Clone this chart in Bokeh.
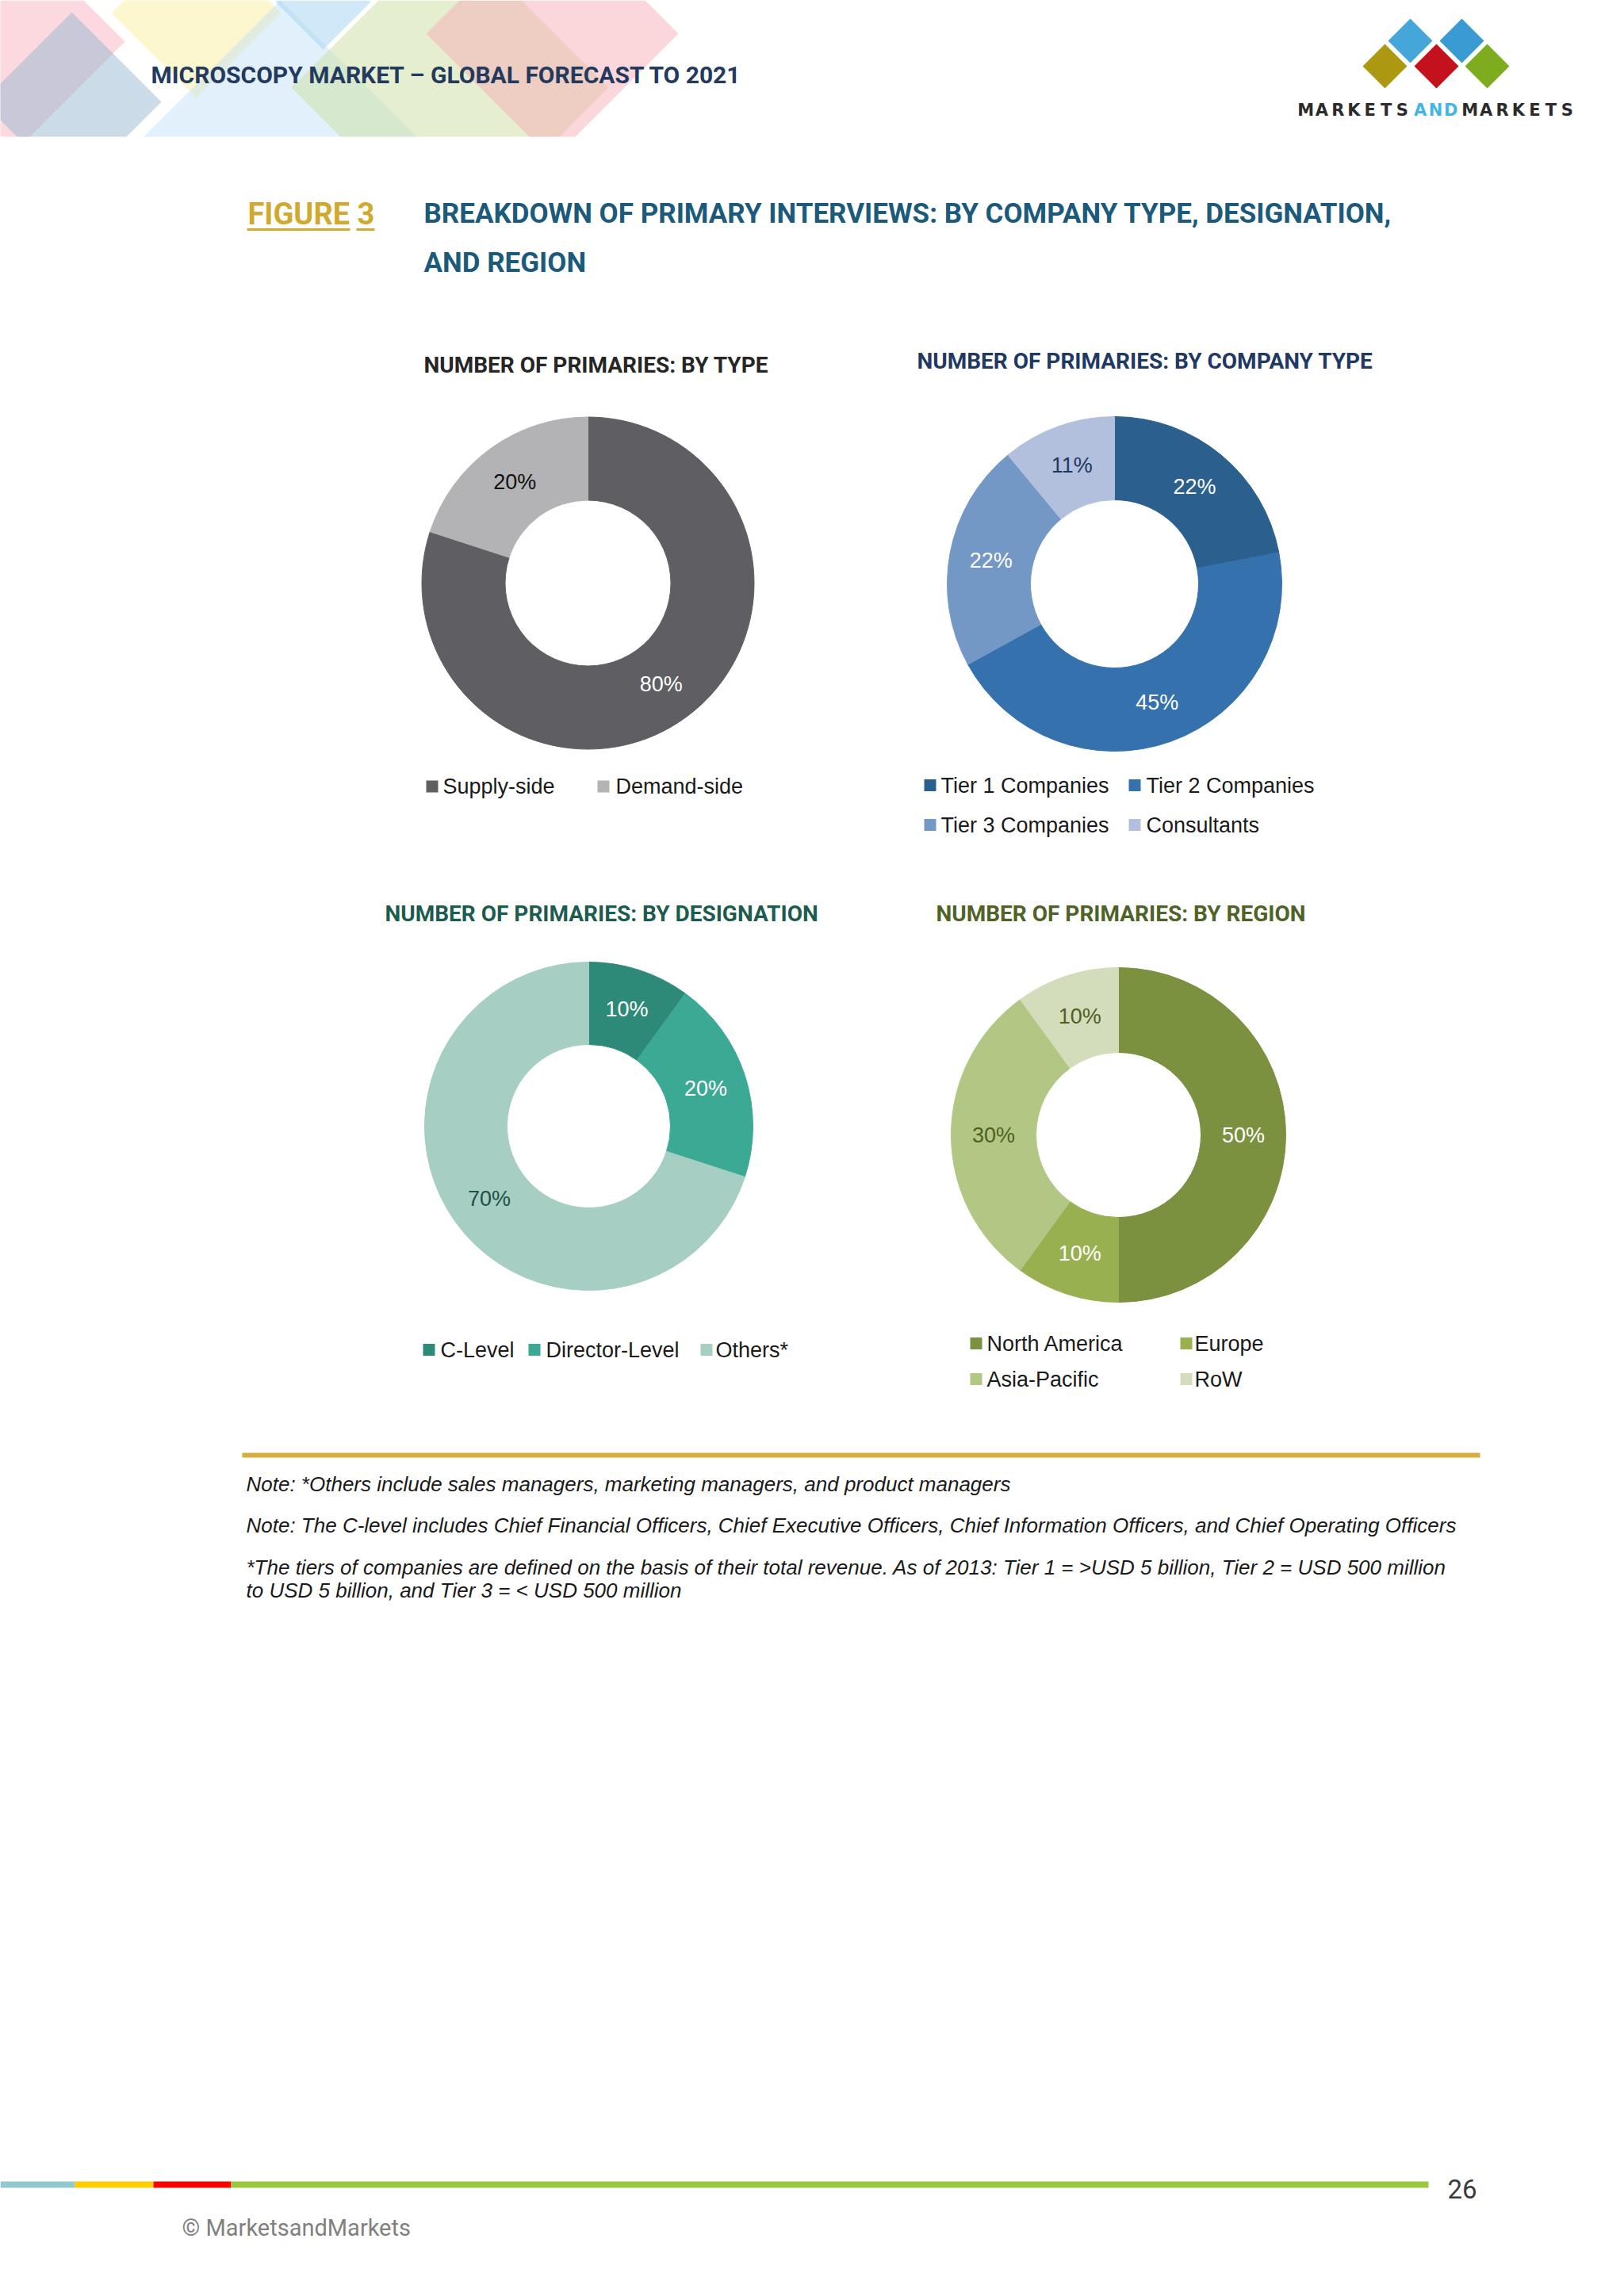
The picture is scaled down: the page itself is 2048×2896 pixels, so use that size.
import numpy as np
from bokeh.plotting import figure
from bokeh.models import Range1d, ColumnDataSource
from bokeh.core.properties import value
from bokeh.embed import file_html
from bokeh.resources import INLINE

# ---------------- data ----------------
type_labels = ["Supply-side", "Demand-side"]
type_values = [80, 20]
type_colors = ["#5f5e62", "#b3b2b5"]
type_text = ["white", "#111111"]

company_labels = ["Tier 1 Companies", "Tier 2 Companies", "Tier 3 Companies", "Consultants"]
company_values = [22, 45, 22, 11]
company_colors = ["#2b5f8e", "#3572ad", "#7498c6", "#b2c0dd"]
company_text = ["white", "white", "white", "#1f3864"]

designation_labels = ["C-Level", "Director-Level", "Others*"]
designation_values = [10, 20, 70]
designation_colors = ["#2d8a78", "#3ba993", "#a7cec3"]
designation_text = ["white", "white", "#1e5246"]

region_labels = ["North America", "Europe", "Asia-Pacific", "RoW"]
region_values = [50, 10, 30, 10]
region_colors = ["#7c9140", "#98b04f", "#b3c785", "#d3dcbb"]
region_text = ["white", "white", "#4f5f22", "#4f5f22"]

notes = [
    "Note: *Others include sales managers, marketing managers, and product managers",
    "Note: The C-level includes Chief Financial Officers, Chief Executive Officers, Chief Information Officers, and Chief Operating Officers",
    "*The tiers of companies are defined on the basis of their total revenue. As of 2013: Tier 1 = >USD 5 billion, Tier 2 = USD 500 million",
    "to USD 5 billion, and Tier 3 = < USD 500 million",
]

# ---------------- page ----------------
W, H = 2040, 2888
p = figure(width=W, height=H, x_range=Range1d(0, W), y_range=Range1d(-H, 0),
           output_backend="svg", toolbar_location=None, x_axis_type=None, y_axis_type=None,
           min_border=0)
p.title.visible = False
p.outline_line_color = None
p.background_fill_color = "white"
p.border_fill_color = "white"

HEAD = "Roboto"
BODY = "Liberation Sans"


def txt(x, y, s, size, color, font=BODY, style="normal", align="left"):
    p.text(x=[x], y=[-y], text=[s], text_font=value(font), text_font_size=f"{size}px",
           text_color=color, text_font_style=style, text_align=align, text_baseline="middle")


def clip_band(pts, ymin=0, ymax=172):
    def clip(poly, keep, inter):
        out = []
        n = len(poly)
        for i in range(n):
            a, b = poly[i], poly[(i + 1) % n]
            ka, kb = keep(a), keep(b)
            if ka:
                out.append(a)
            if ka != kb:
                out.append(inter(a, b))
        return out

    def iy(a, b, yv):
        t = (yv - a[1]) / (b[1] - a[1])
        return (a[0] + t * (b[0] - a[0]), yv)

    poly = clip(pts, lambda q: q[1] >= ymin, lambda a, b: iy(a, b, ymin))
    poly = clip(poly, lambda q: q[1] <= ymax, lambda a, b: iy(a, b, ymax))
    return poly


def diamond(cx, cy, d):
    return [(cx, cy - d), (cx + d, cy), (cx, cy + d), (cx - d, cy)]


# header decoration
deco = [
    (7, 52, 150, "#f7b4bd"),
    (90, 128, 113, "#98b7d1"),
    (247, 16, 107, "#fbef9f"),
    (353, 200, 200, "#c3e1f5"),
    (407, 2, 60, "#a1d1ef"),
    (567, 110, 200, "#cce0a0"),
    (696, 42, 159, "#f7adb5"),
]
for cx, cy, d, c in deco:
    poly = clip_band(diamond(cx, cy, d))
    p.patch(x=[q[0] for q in poly], y=[-q[1] for q in poly], fill_color=c, fill_alpha=0.5,
            line_color=None)

txt(190, 94, "MICROSCOPY MARKET \u2013 GLOBAL FORECAST TO 2021", 30, "#233a5e", HEAD, "bold")

# logo
logo = [(1778, 51, "#45a7d9"), (1843, 51, "#3a9bd2"), (1746, 83, "#ad9812"),
        (1811, 83, "#c3111d"), (1875, 83, "#7dac1f")]
for cx, cy, c in logo:
    poly = diamond(cx, cy, 28)
    p.patch(x=[q[0] for q in poly], y=[-q[1] for q in poly], fill_color=c, line_color=None)

for word, x0, x1, col in [("MARKETS", 1636, 1778, "#2b2b2b"), ("AND", 1781, 1839, "#41b6e6"),
                          ("MARKETS", 1843, 1986, "#2b2b2b")]:
    pitch = (x1 - x0) / len(word)
    for i, ch in enumerate(word):
        txt(x0 + pitch * (i + 0.5), 138, ch, 21, col, "DejaVu Sans", "bold", "center")

# figure title
txt(312, 269, "FIGURE 3", 38, "#d0a92f", HEAD, "bold")
p.segment(x0=[311, 449], y0=[-289, -289], x1=[441, 472], y1=[-289, -289], line_color="#d0a92f",
          line_width=3)
txt(534, 269, "BREAKDOWN OF PRIMARY INTERVIEWS: BY COMPANY TYPE, DESIGNATION,", 35, "#1b5a7a",
    HEAD, "bold")
txt(534, 331, "AND REGION", 35, "#1b5a7a", HEAD, "bold")


# ---------------- donuts ----------------
def donut(cx, cy, R, r, values, colors, label_colors):
    v = np.array(values, dtype=float)
    frac = v / v.sum()
    cum = np.concatenate([[0.0], np.cumsum(frac)])
    start = np.pi / 2 - 2 * np.pi * cum[:-1]
    end = np.pi / 2 - 2 * np.pi * cum[1:]
    src = ColumnDataSource(dict(start=start, end=end, color=colors))
    p.annular_wedge(x=cx, y=-cy, inner_radius=r, outer_radius=R, start_angle="start",
                    end_angle="end", direction="clock", fill_color="color", line_color="color",
                    line_width=1, source=src)
    mid = (cum[:-1] + cum[1:]) / 2
    ang = np.pi / 2 - 2 * np.pi * mid
    rm = (R + r) / 2
    lsrc = ColumnDataSource(dict(x=cx + rm * np.cos(ang), y=-cy + rm * np.sin(ang),
                                 t=[f"{int(round(x))}%" for x in values], c=label_colors))
    p.text(x="x", y="y", text="t", text_color="c", source=lsrc, text_font=value(BODY),
           text_font_size="27px", text_align="center", text_baseline="middle")


def legend(entries, labels, colors, sq=15):
    for (xs, ys, xt), lab, col in zip(entries, labels, colors):
        p.rect(x=[xs + sq / 2], y=[-ys], width=sq, height=sq, fill_color=col, line_color=None)
        txt(xt, ys, lab, 27, "#1a1a1a", BODY)


# chart 1
txt(534, 460, "NUMBER OF PRIMARIES: BY TYPE", 28, "#262626", HEAD, "bold")
donut(741, 735, 209.5, 104.5, type_values, type_colors, type_text)
legend([(537, 991.5, 558), (753, 991.5, 776)], type_labels, type_colors)

# chart 2
txt(1156, 455, "NUMBER OF PRIMARIES: BY COMPANY TYPE", 28, "#1f3864", HEAD, "bold")
donut(1405, 736, 211, 106, company_values, company_colors, company_text)
legend([(1165, 990, 1186), (1423, 990, 1445), (1165, 1040, 1186), (1423, 1040, 1445)],
       company_labels, company_colors)

# chart 3
txt(485, 1152, "NUMBER OF PRIMARIES: BY DESIGNATION", 28, "#1e5b4f", HEAD, "bold")
donut(742, 1420, 207, 103, designation_values, designation_colors, designation_text)
legend([(533, 1702, 555), (666, 1702, 688), (883, 1702, 902)],
       designation_labels, designation_colors)

# chart 4
txt(1180, 1152, "NUMBER OF PRIMARIES: BY REGION", 28, "#4f6228", HEAD, "bold")
donut(1410, 1431, 211, 104, region_values, region_colors, region_text)
legend([(1223, 1694, 1244), (1488, 1694, 1506), (1223, 1739, 1244), (1488, 1739, 1506)],
       region_labels, region_colors)

# ---------------- notes ----------------
p.segment(x0=[305], y0=[-1835], x1=[1866], y1=[-1835], line_color="#d6ae3c", line_width=6)
for s, yc in zip(notes, [1871, 1923, 1976, 2005]):
    txt(310, yc, s, 26, "#1a1a1a", BODY, "italic")

# ---------------- footer ----------------
for x0, x1, c in [(0, 94, "#92c9ce"), (94, 193, "#ffcc00"), (193, 291, "#ff0000"),
                  (291, 1801, "#99c93a")]:
    p.quad(left=[x0], right=[x1], top=[-2751], bottom=[-2759], fill_color=c, line_color=None)
txt(1825, 2760, "26", 33, "#3a3a3a", HEAD)
txt(229, 2809, "\u00a9 MarketsandMarkets", 29, "#808080", HEAD)

open("out.html", "w").write(file_html(p, INLINE))
